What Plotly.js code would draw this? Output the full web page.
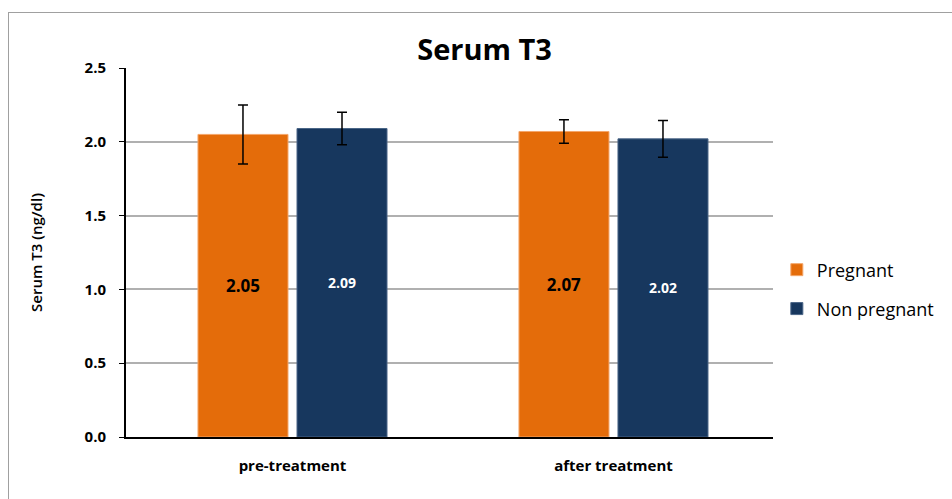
<!DOCTYPE html>
<html><head><meta charset="utf-8">
<script src="https://cdn.plot.ly/plotly-3.0.1.min.js"></script>
<style>body{margin:0;padding:0;background:#fff;}#frame{position:absolute;left:8px;top:12px;width:960px;height:500px;border-left:1px solid #a0a0a0;border-top:1px solid #a0a0a0;pointer-events:none;}#chart{position:absolute;left:0;top:0;width:952px;height:499px;}</style>
</head><body>
<div id="chart"></div><div id="frame"></div>
<script>
const categories = ["pre-treatment", "after treatment"];
const pregnant = [2.05, 2.07];
const pregnantErr = [0.20, 0.08];
const nonPregnant = [2.09, 2.02];
const nonPregnantErr = [0.11, 0.125];
const pregnantLabels = ["2.05", "2.07"];
const nonPregnantLabels = ["2.09", "2.02"];
const yTicks = [0, 0.5, 1.0, 1.5, 2.0, 2.5];
const yTickText = ["0.0", "0.5", "1.0", "1.5", "2.0", "2.5"];

const font = "'Open Sans', 'Noto Sans', sans-serif";
const errStyle = {type: 'data', visible: true, color: '#000', thickness: 1.5, width: 5};

const traces = [
  {type: 'bar', name: 'Pregnant', x: categories, y: pregnant, legend: 'legend',
   error_y: Object.assign({array: pregnantErr}, errStyle),
   marker: {color: '#E46C0A', line: {color: '#F4A66A', width: 1}},
   text: pregnantLabels, texttemplate: '%{text}', textposition: 'inside', insidetextanchor: 'middle',
   textfont: {family: font, size: 17, color: '#000', weight: 'bold'}, hoverinfo: 'none'},
  {type: 'bar', name: 'Non pregnant', x: categories, y: nonPregnant, legend: 'legend2',
   error_y: Object.assign({array: nonPregnantErr}, errStyle),
   marker: {color: '#17375E', line: {color: '#4a6587', width: 1}},
   text: nonPregnantLabels, texttemplate: '%{text}', textposition: 'inside', insidetextanchor: 'middle',
   textfont: {family: font, size: 14, color: '#fff', weight: 'bold'}, hoverinfo: 'none'}
];

const legendBase = {xref: 'container', yref: 'container', x: 0.816, xanchor: 'left', yanchor: 'middle',
  font: {family: font, size: 18}, itemwidth: 30, bgcolor: 'rgba(0,0,0,0)'};

const layout = {
  width: 952, height: 499,
  margin: {l: 126, r: 179, t: 68, b: 62, autoexpand: false},
  paper_bgcolor: '#fff', plot_bgcolor: '#fff',
  font: {family: font, color: '#000'},
  title: {text: '<b>Serum T3</b>', font: {family: font, size: 29, color: '#000'}, x: 0.509, xref: 'container', xanchor: 'center', y: 0.9, yref: 'container', yanchor: 'middle'},
  barmode: 'group', bargap: 0.383, bargroupgap: 0.091,
  xaxis: {range: [-0.5187, 1.497], showline: true, linecolor: '#000', linewidth: 2, ticks: 'outside', ticklen: 14, tickcolor: 'rgba(0,0,0,0)',
          tickfont: {family: font, size: 15, weight: 'bold'}, showgrid: false, automargin: false},
  yaxis: {range: [0, 2.5], tickvals: yTicks, ticktext: yTickText, showline: true, linecolor: '#000', linewidth: 2,
          ticks: 'outside', ticklen: 5, tickcolor: '#000', ticklabelstandoff: 10, tickfont: {family: font, size: 15, weight: 'bold'},
          showgrid: true, gridcolor: '#b0b0b0', gridwidth: 2, zeroline: false, automargin: false,
          title: {text: 'Serum T3 (ng/dl)', font: {family: font, size: 15, weight: 600}, standoff: 38}},
  legend: Object.assign({y: 0.459}, legendBase),
  legend2: Object.assign({y: 0.381}, legendBase),
  showlegend: true
};

Plotly.newPlot('chart', traces, layout, {displayModeBar: false, staticPlot: true});
</script>
</body></html>
